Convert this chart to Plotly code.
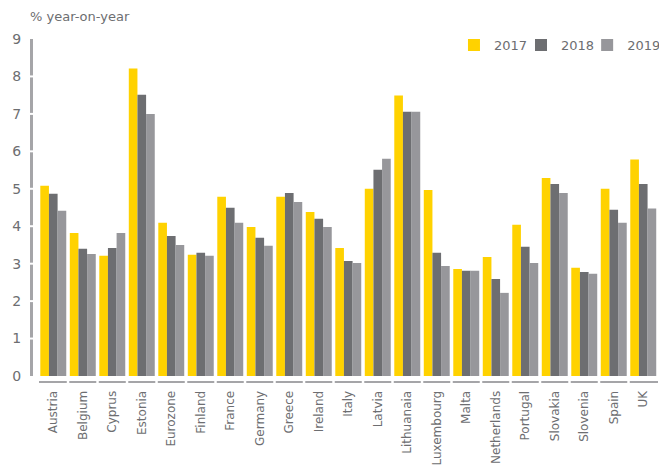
import plotly.graph_objects as go

categories = ["Austria", "Belgium", "Cyprus", "Estonia", "Eurozone", "Finland", "France",
              "Germany", "Greece", "Ireland", "Italy", "Latvia", "Lithuanaia", "Luxembourg",
              "Malta", "Netherlands", "Portugal", "Slovakia", "Slovenia", "Spain", "UK"]
y2017 = [5.08, 3.82, 3.21, 8.21, 4.09, 3.24, 4.79, 3.98, 4.79, 4.38, 3.42, 5.00, 7.49, 4.97,
         2.86, 3.18, 4.04, 5.29, 2.89, 5.00, 5.78]
y2018 = [4.87, 3.40, 3.42, 7.51, 3.74, 3.29, 4.49, 3.69, 4.89, 4.20, 3.07, 5.51, 7.06, 3.29,
         2.81, 2.59, 3.45, 5.13, 2.78, 4.44, 5.13]
y2019 = [4.41, 3.26, 3.82, 7.00, 3.50, 3.21, 4.09, 3.48, 4.65, 3.98, 3.02, 5.80, 7.06, 2.94,
         2.81, 2.22, 3.02, 4.89, 2.73, 4.09, 4.47]
series_names = ["2017", "2018", "2019"]
y_ticks = [0, 1, 2, 3, 4, 5, 6, 7, 8, 9]

colors = ["#FFD200", "#6D6E71", "#97979B"]
text_color = "#6D6E71"
axis_color = "#A5A5A8"
font_family = "DejaVu Sans"
legend_ids = ["legend", "legend2", "legend3"]

fig = go.Figure()
for name, vals, c, lg in zip(series_names, [y2017, y2018, y2019], colors, legend_ids):
    fig.add_trace(go.Bar(x=categories, y=vals, name=name, legend=lg,
                         marker=dict(color=c, line=dict(width=0))))

shapes = []
# white gaps on the y axis line at each tick
for v in y_ticks[1:-1]:
    shapes.append(dict(type="line", xref="paper", yref="y", x0=-0.01, x1=0.006, y0=v, y1=v,
                       line=dict(color="white", width=2), layer="above"))
# white gaps on the x axis line between categories
for i in range(len(categories) - 1):
    shapes.append(dict(type="line", xref="x", yref="paper", x0=i + 0.5, x1=i + 0.5, y0=-0.012, y1=0.008,
                       line=dict(color="white", width=2.5), layer="above"))

legend_common = dict(orientation="h", y=0.982, yanchor="middle",
                     font=dict(size=13, color=text_color), bgcolor="rgba(0,0,0,0)")

# page body has an 8px margin, so the figure is 8px smaller and margins are shifted
fig.update_layout(
    width=659, height=467,
    margin=dict(l=23, r=9, t=31, b=93, autoexpand=False),
    paper_bgcolor="white", plot_bgcolor="white",
    barmode="group", bargap=0.12, bargroupgap=0,
    font=dict(family=font_family, color=text_color),
    showlegend=True,
    legend=dict(x=0.6746, xanchor="left", **legend_common),
    legend2=dict(x=0.7815, xanchor="left", **legend_common),
    legend3=dict(x=1.013, xanchor="right", **legend_common),
    xaxis=dict(domain=[0.012, 1], anchor="free", position=0, showline=True, linecolor=axis_color,
               linewidth=2, ticks="", tickangle=-90, tickfont=dict(size=12, color=text_color),
               showgrid=False, zeroline=False, ticklabelstandoff=3, automargin=False),
    yaxis=dict(domain=[0.0175, 1], anchor="free", position=0, range=[0, 9], tickvals=y_ticks,
               showline=True, linecolor=axis_color, linewidth=3, ticks="",
               tickfont=dict(size=14, color=text_color), showgrid=False, zeroline=False,
               ticklabelstandoff=6, automargin=False),
    shapes=shapes,
    annotations=[dict(text="% year-on-year", xref="paper", yref="paper", x=-0.005, y=1.067,
                      xanchor="left", yanchor="middle", showarrow=False,
                      font=dict(size=13, color=text_color))],
)

fig.write_html("out.html")
